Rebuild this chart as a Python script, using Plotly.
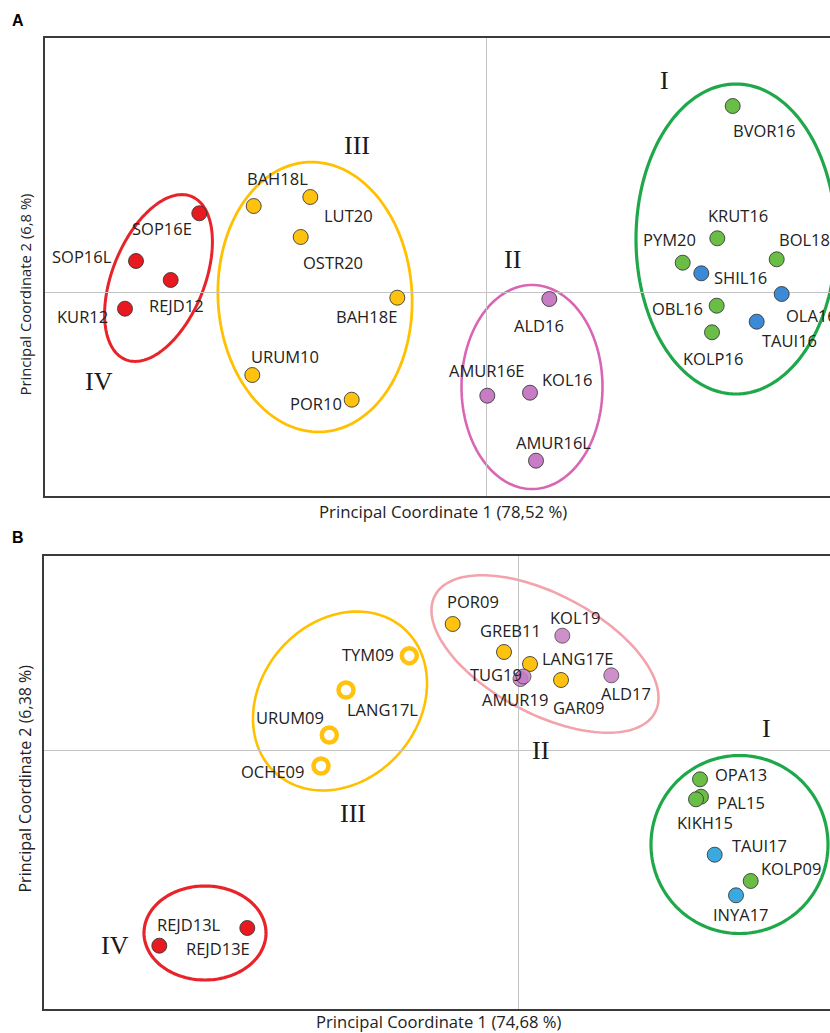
import numpy as np
import plotly.graph_objects as go

W, H = 830, 1033

# ---------------- Panel A data ----------------
a_green_names = ["BVOR16", "KRUT16", "PYM20", "BOL18", "OBL16", "KOLP16"]
a_green_x = [2.464, 2.310, 1.964, 2.904, 2.304, 2.257]
a_green_y = [1.863, 0.540, 0.296, 0.330, -0.134, -0.400]

a_blue_names = ["SHIL16", "OLA16", "TAUI16"]
a_blue_x = [2.150, 2.954, 2.704]
a_blue_y = [0.190, -0.017, -0.294]

a_purple_names = ["ALD16", "AMUR16E", "KOL16", "AMUR16L"]
a_purple_x = [0.630, 0.010, 0.437, 0.497]
a_purple_y = [-0.067, -1.034, -1.004, -1.684]

a_yellow_names = ["BAH18L", "LUT20", "OSTR20", "BAH18E", "URUM10", "POR10"]
a_yellow_x = [-2.326, -1.760, -1.856, -0.890, -2.340, -1.346]
a_yellow_y = [0.863, 0.953, 0.553, -0.054, -0.827, -1.074]

a_red_names = ["SOP16E", "SOP16L", "REJD12", "KUR12"]
a_red_x = [-2.870, -3.503, -3.156, -3.613]
a_red_y = [0.790, 0.313, 0.123, -0.164]

# ---------------- Panel B data ----------------
b_ring_names = ["TYM09", "LANG17L", "URUM09", "OCHE09"]
b_ring_x = [-1.094, -1.727, -1.894, -1.977]
b_ring_y = [0.943, 0.600, 0.150, -0.160]

b_yellow_names = ["POR09", "GREB11", "LANG17E", "GAR09"]
b_yellow_x = [-0.660, -0.147, 0.113, 0.423]
b_yellow_y = [1.260, 0.980, 0.860, 0.700]

b_purple_names = ["KOL19", "ALD17", "TUG19", "AMUR19"]
b_purple_x = [0.436, 0.926, 0.018, 0.048]
b_purple_y = [1.143, 0.747, 0.710, 0.735]

b_green_names = ["OPA13", "PAL15", "KIKH15", "KOLP09"]
b_green_x = [1.813, 1.823, 1.773, 2.320]
b_green_y = [-0.293, -0.467, -0.493, -1.310]

b_blue_names = ["TAUI17", "INYA17"]
b_blue_x = [1.960, 2.173]
b_blue_y = [-1.047, -1.453]

b_red_names = ["REJD13L", "REJD13E"]
b_red_x = [-3.594, -2.714]
b_red_y = [-1.957, -1.780]

# label offsets in pixels (dx right, dy down)
label_off = {
    "BVOR16": (31, 24), "KRUT16": (21, -23), "PYM20": (-13, -23), "BOL18": (28, -20),
    "OBL16": (-39, 3), "KOLP16": (1, 26), "SHIL16": (39, 4), "OLA16": (30, 21),
    "TAUI16": (33, 19), "ALD16": (-10, 26), "AMUR16E": (0, -25), "KOL16": (37, -13),
    "AMUR16L": (17, -18), "BAH18L": (24, -28), "LUT20": (38, 18), "OSTR20": (32, 25),
    "BAH18E": (-31, 19), "URUM10": (33, -19), "POR10": (-36, 4), "SOP16E": (-37, 15),
    "SOP16L": (-54, -5), "REJD12": (6, 25), "KUR12": (-43, 8),
    "TYM09": (-41, -1), "LANG17L": (36, 19), "URUM09": (-39, -18), "OCHE09": (-49, 5),
    "POR09": (20, -23), "GREB11": (6, -22), "LANG17E": (48, -6), "GAR09": (17, 27),
    "KOL19": (13, -18), "ALD17": (15, 18), "TUG19": (-25, -5), "AMUR19": (-9, 23),
    "OPA13": (41, -5), "PAL15": (40, 6), "KIKH15": (9, 23), "TAUI17": (45, -9),
    "KOLP09": (40, -13), "INYA17": (5, 19), "REJD13L": (30, -21), "REJD13E": (-29, 20),
}

# ---------------- styles ----------------
RED = "#E8191F"
YELLOW = "#FFC20E"
PURPLE = "#C77CC3"
GREEN = "#6BBE45"
BLUE_A = "#3C8AD5"
BLUE_B = "#3AA9E0"
LABEL_FONT = dict(family="Open Sans", size=16.5, color="#222222")
ROMAN_FONT = dict(family="Liberation Serif", size=26, color="#1a1a1a")

fig = go.Figure()


def add_points(xs, ys, color, axis, size=15, symbol="circle", lw=1, lc="rgba(50,50,50,0.85)", opacity=1.0):
    fig.add_trace(go.Scatter(
        x=xs, y=ys, mode="markers", xaxis=axis[0], yaxis=axis[1],
        marker=dict(size=size, color=color, symbol=symbol, opacity=opacity,
                    line=dict(width=lw, color=lc)),
        showlegend=False, hoverinfo="skip", cliponaxis=True))


def add_labels(names, xs, ys, axis):
    for n, x, y in zip(names, xs, ys):
        dx, dy = label_off[n]
        fig.add_annotation(x=x, y=y, xref=axis[0], yref=axis[1], text=n,
                           showarrow=False, xshift=dx, yshift=-dy,
                           xanchor="center", yanchor="middle",
                           font=LABEL_FONT)


A = ("x", "y")
B = ("x2", "y2")

# ellipse outlines (cx, cy, rx, ry, rotation deg, color, width, axis)
ellipses = [
    (2.497, 0.533, 1.00, 1.55, 0, "#1EA84A", 3.2, A),
    (0.457, -0.947, 0.705, 1.02, 0, "#D966B5", 2.6, A),
    (-1.713, -0.047, 0.97, 1.35, 3, "#FFC000", 2.8, A),
    (-3.278, 0.143, 0.88, 0.46, 68, "#E8232A", 3.0, A),
    (2.208, -0.945, 0.885, 0.89, 0, "#1EA84A", 3.2, B),
    (0.263, 0.960, 1.246, 0.597, -28, "#F3A3AC", 2.6, B),
    (-1.787, 0.490, 0.966, 0.79, 49, "#FFC000", 2.6, B),
    (-3.137, -1.830, 0.61, 0.47, 0, "#E8232A", 3.2, B),
]
for cx, cy, rx, ry, rot, col, w, ax in ellipses:
    t = np.linspace(0, 2 * np.pi, 181)
    r = np.deg2rad(rot)
    ex = cx + rx * np.cos(t) * np.cos(r) - ry * np.sin(t) * np.sin(r)
    ey = cy + rx * np.cos(t) * np.sin(r) + ry * np.sin(t) * np.cos(r)
    path = "M " + " L ".join(f"{a:.4f},{b:.4f}" for a, b in zip(ex, ey)) + " Z"
    fig.add_shape(type="path", path=path, xref=ax[0], yref=ax[1],
                  line=dict(color=col, width=w), layer="below")

# Panel A points
add_points(a_green_x, a_green_y, GREEN, A)
add_points(a_blue_x, a_blue_y, BLUE_A, A)
add_points(a_purple_x, a_purple_y, PURPLE, A)
add_points(a_yellow_x, a_yellow_y, YELLOW, A)
add_points(a_red_x, a_red_y, RED, A)
add_labels(a_green_names, a_green_x, a_green_y, A)
add_labels(a_blue_names, a_blue_x, a_blue_y, A)
add_labels(a_purple_names, a_purple_x, a_purple_y, A)
add_labels(a_yellow_names, a_yellow_x, a_yellow_y, A)
add_labels(a_red_names, a_red_x, a_red_y, A)

# Panel B points
add_points(b_ring_x, b_ring_y, YELLOW, B, size=15, symbol="circle-open", lw=4.5, lc=YELLOW)
add_points(b_yellow_x, b_yellow_y, YELLOW, B)
add_points(b_purple_x, b_purple_y, PURPLE, B, opacity=0.85)
add_points(b_green_x, b_green_y, GREEN, B)
add_points(b_blue_x, b_blue_y, BLUE_B, B)
add_points(b_red_x, b_red_y, RED, B)
add_labels(b_ring_names, b_ring_x, b_ring_y, B)
add_labels(b_yellow_names, b_yellow_x, b_yellow_y, B)
add_labels(b_purple_names, b_purple_x, b_purple_y, B)
add_labels(b_green_names, b_green_x, b_green_y, B)
add_labels(b_blue_names, b_blue_x, b_blue_y, B)
add_labels(b_red_names, b_red_x, b_red_y, B)

# Group numerals
romans = [
    ("I", 1.777, 2.123, A), ("II", 0.262, 0.333, A), ("III", -1.293, 1.466, A), ("IV", -3.873, -0.894, A),
    ("I", 2.480, 0.217, B), ("II", 0.213, 0.000, B), ("III", -1.660, -0.633, B), ("IV", -4.037, -1.950, B),
]
for txt, x, y, ax in romans:
    fig.add_annotation(x=x, y=y, xref=ax[0], yref=ax[1], text=txt, showarrow=False,
                       xanchor="center", yanchor="middle", font=ROMAN_FONT)


def px(xp):
    return xp / W


def py(yp):
    return 1 - yp / H


axis_common = dict(showgrid=False, showticklabels=False, ticks="", zeroline=True,
                   zerolinecolor="#C4C4C4", zerolinewidth=1.2,
                   showline=True, linecolor="#3A3A3A", linewidth=1.6)

fig.update_layout(
    width=W, height=H, margin=dict(l=0, r=0, t=0, b=0),
    paper_bgcolor="white", plot_bgcolor="white",
    xaxis=dict(domain=[px(45), 1.0], range=[-4.413, 3.437], mirror=True, anchor="y", **axis_common),
    yaxis=dict(domain=[py(495.7), py(38)], range=[-2.034, 2.543], mirror=False, anchor="x", **axis_common),
    xaxis2=dict(domain=[px(43.7), 1.0], range=[-4.75, 3.113], mirror=True, anchor="y2", **axis_common),
    yaxis2=dict(domain=[py(1009), py(556)], range=[-2.59, 1.94], mirror=False, anchor="x2", **axis_common),
)


def paper_text(xp, yp, text, font, angle=0):
    fig.add_annotation(x=px(xp), y=py(yp), xref="paper", yref="paper", text=text,
                       showarrow=False, xanchor="center", yanchor="middle",
                       textangle=angle, font=font)


def tfont(size):
    return dict(family="Open Sans", size=size, color="#222222")


LETTER_FONT = dict(family="Liberation Sans", size=16, color="black")
paper_text(18, 20, "<b>A</b>", LETTER_FONT)
paper_text(18, 537, "<b>B</b>", LETTER_FONT)
paper_text(443, 511, "Principal Coordinate 1 (78,52 %)", tfont(16.8))
paper_text(439, 1021.5, "Principal Coordinate 1 (74,68 %)", tfont(16.6))
paper_text(24, 294.5, "Principal Coordinate 2 (6,8 %)", tfont(14.8), -90)
paper_text(24, 778.5, "Principal Coordinate 2 (6,38 %)", tfont(16.0), -90)

fig.write_html("out.html", config={"displayModeBar": False},
               post_script="document.body.style.margin='0px';document.body.style.overflow='hidden';")
